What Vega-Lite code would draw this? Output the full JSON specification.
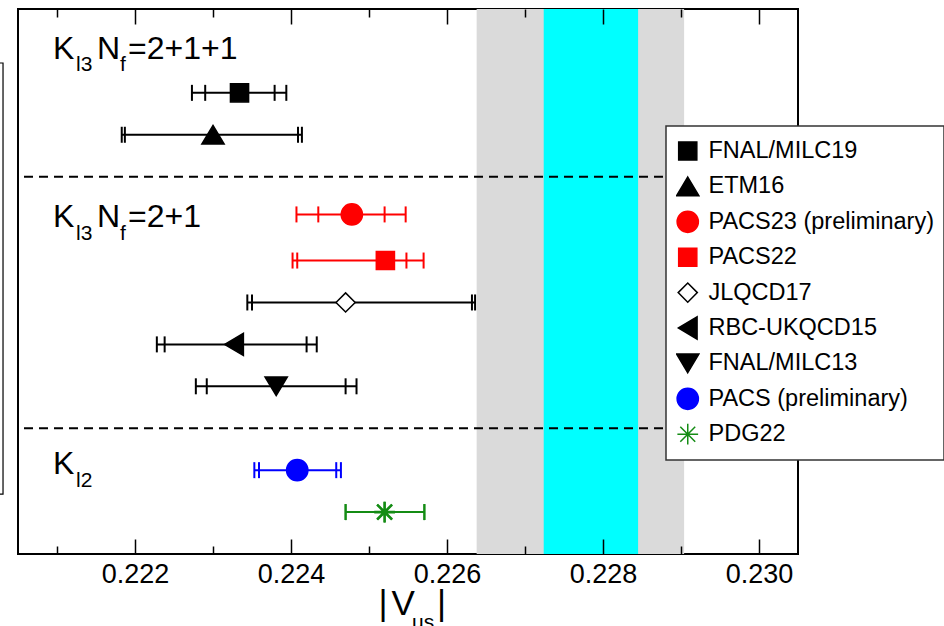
{
  "$schema": "https://vega.github.io/schema/vega-lite/v6.json",
  "width": 780,
  "height": 545,
  "autosize": "none",
  "padding": {"left": 18, "top": 9, "right": 146, "bottom": 72},
  "background": "white",
  "config": {
    "font": "Liberation Sans",
    "view": {"stroke": "black", "strokeWidth": 2},
    "axis": {"domain": false, "grid": false},
    "legend": {
      "orient": "none",
      "legendX": 648,
      "legendY": 117,
      "padding": 10,
      "fillColor": "white",
      "strokeColor": "#333333",
      "strokeWidth": 1.5,
      "labelFont": "Liberation Sans",
      "labelFontSize": 23.5,
      "labelColor": "black",
      "labelLimit": 400,
      "labelOffset": 9,
      "clipHeight": 30,
      "rowPadding": 5.4,
      "symbolStrokeWidth": 1.5,
      "symbolOpacity": 1,
      "symbolSize": 430,
      "zindex": 2
    }
  },
  "datasets": {
    "pts": [
      {"name": "FNAL/MILC19", "x": 0.22334, "lo1": 0.22273, "lo2": 0.22290, "hi2": 0.22379, "hi1": 0.22394, "pos": 2},
      {"name": "ETM16", "x": 0.22300, "lo1": 0.22183, "lo2": 0.22187, "hi2": 0.22409, "hi1": 0.22414, "pos": 3},
      {"name": "PACS23 (preliminary)", "x": 0.22478, "lo1": 0.22407, "lo2": 0.22435, "hi2": 0.22520, "hi1": 0.22547, "pos": 4.9},
      {"name": "PACS22", "x": 0.22521, "lo1": 0.22402, "lo2": 0.22408, "hi2": 0.22548, "hi1": 0.22570, "pos": 6},
      {"name": "JLQCD17", "x": 0.22470, "lo1": 0.22344, "lo2": 0.22350, "hi2": 0.22632, "hi1": 0.22636, "pos": 7},
      {"name": "RBC-UKQCD15", "x": 0.22327, "lo1": 0.22228, "lo2": 0.22238, "hi2": 0.22420, "hi1": 0.22433, "pos": 8},
      {"name": "FNAL/MILC13", "x": 0.22381, "lo1": 0.22278, "lo2": 0.22292, "hi2": 0.22470, "hi1": 0.22484, "pos": 9},
      {"name": "PACS (preliminary)", "x": 0.22408, "lo1": 0.22353, "lo2": 0.22359, "hi2": 0.22458, "hi1": 0.22464, "pos": 11},
      {"name": "PDG22", "x": 0.22520, "lo1": 0.22470, "lo2": 0.22470, "hi2": 0.22571, "hi1": 0.22571, "pos": 12}
    ],
    "grey": [{"lo": 0.22638, "hi": 0.22904}],
    "cyan": [{"lo": 0.22724, "hi": 0.22845}],
    "dash": [{"pos": 4}, {"pos": 10}],
    "lab": [
      {"t": "K", "x": 0.220949, "pos": 1.19},
      {"t": "N", "x": 0.221513, "pos": 1.19},
      {"t": "=2+1+1", "x": 0.22191, "pos": 1.19},
      {"t": "K", "x": 0.220949, "pos": 5.2},
      {"t": "N", "x": 0.221513, "pos": 5.2},
      {"t": "=2+1", "x": 0.22191, "pos": 5.2},
      {"t": "K", "x": 0.220949, "pos": 11.09}
    ],
    "sub": [
      {"t": "l3", "x": 0.221244, "pos": 1.49},
      {"t": "f", "x": 0.221808, "pos": 1.49},
      {"t": "l3", "x": 0.221244, "pos": 5.5},
      {"t": "f", "x": 0.221808, "pos": 5.5},
      {"t": "l2", "x": 0.221244, "pos": 11.4}
    ],
    "ttl": [
      {"t": "|", "x": 0.225122, "pos": 14.456},
      {"t": "V", "x": 0.225288, "pos": 14.456},
      {"t": "|", "x": 0.225871, "pos": 14.456}
    ],
    "ttlsub": [{"t": "us", "x": 0.225551, "pos": 14.79}],
    "box": [{"x": 0.2195, "x2": 0.220308, "pos": 1.288, "pos2": 11.57}]
  },
  "resolve": {"axis": {"x": "independent"}},
  "layer": [
    {
      "data": {"name": "grey"},
      "mark": {"type": "rect", "color": "#dadada"},
      "encoding": {
        "x": {"field": "lo", "type": "quantitative",
          "scale": {"domain": [0.2205, 0.2305], "nice": false, "zero": false},
          "axis": {"orient": "bottom", "values": [0.222, 0.224, 0.226, 0.228, 0.23], "format": ".3f", "ticks": false, "labels": true, "labelFontSize": 27, "labelPadding": 7, "labelColor": "black", "labelFont": "Liberation Sans", "title": null, "domain": false, "grid": false}},
        "x2": {"field": "hi"}
      }
    },
    {
      "data": {"name": "cyan"},
      "mark": {"type": "rect", "color": "#00ffff"},
      "encoding": {
        "x": {"field": "lo", "type": "quantitative",
          "scale": {"domain": [0.2205, 0.2305], "nice": false, "zero": false},
          "axis": {"orient": "bottom", "values": [0.222, 0.224, 0.226, 0.228, 0.23], "labels": false, "ticks": true, "tickSize": -15, "tickWidth": 1.5, "tickColor": "black", "title": null, "domain": false, "grid": false, "zindex": 1}},
        "x2": {"field": "hi"}
      }
    },
    {
      "data": {"name": "dash"},
      "mark": {"type": "rule", "color": "black", "strokeWidth": 2, "strokeDash": [9, 6]},
      "encoding": {
        "y": {"field": "pos", "type": "quantitative", "scale": {"domain": [0, 13], "reverse": true, "nice": false, "zero": false}, "axis": null}
      }
    },
    {
      "data": {"name": "pts"},
      "mark": {"type": "rule", "strokeWidth": 2},
      "encoding": {
        "x": {"field": "lo1", "type": "quantitative",
          "scale": {"domain": [0.2205, 0.2305], "nice": false, "zero": false},
          "axis": {"orient": "bottom", "values": [0.221, 0.223, 0.225, 0.227, 0.229], "labels": false, "ticks": true, "tickSize": -8, "tickWidth": 1.5, "tickColor": "black", "title": null, "domain": false, "grid": false, "zindex": 1}},
        "x2": {"field": "hi1"},
        "y": {"field": "pos", "type": "quantitative", "scale": {"domain": [0, 13], "reverse": true, "nice": false, "zero": false}, "axis": null},
        "stroke": {"field": "name", "type": "nominal", "title": null}
      }
    },
    {
      "data": {"name": "pts"},
      "transform": [{"fold": ["lo1", "lo2", "hi2", "hi1"], "as": ["k", "v"]}],
      "mark": {"type": "rule", "strokeWidth": 2, "yOffset": -8, "y2Offset": 8},
      "encoding": {
        "x": {"field": "v", "type": "quantitative",
          "scale": {"domain": [0.2205, 0.2305], "nice": false, "zero": false},
          "axis": {"orient": "top", "values": [0.222, 0.224, 0.226, 0.228, 0.23], "labels": false, "ticks": true, "tickSize": -15, "tickWidth": 1.5, "tickColor": "black", "title": null, "domain": false, "grid": false, "zindex": 1}},
        "y": {"field": "pos", "type": "quantitative", "scale": {"domain": [0, 13], "reverse": true, "nice": false, "zero": false}, "axis": null},
        "y2": {"field": "pos"},
        "stroke": {"field": "name", "type": "nominal", "title": null}
      }
    },
    {
      "data": {"name": "pts"},
      "mark": {"type": "point", "size": 430, "strokeWidth": 1.5, "opacity": 1},
      "encoding": {
        "x": {"field": "x", "type": "quantitative",
          "scale": {"domain": [0.2205, 0.2305], "nice": false, "zero": false},
          "axis": {"orient": "top", "values": [0.221, 0.223, 0.225, 0.227, 0.229], "labels": false, "ticks": true, "tickSize": -8, "tickWidth": 1.5, "tickColor": "black", "title": null, "domain": false, "grid": false, "zindex": 1}},
        "y": {"field": "pos", "type": "quantitative", "scale": {"domain": [0, 13], "reverse": true, "nice": false, "zero": false}, "axis": null},
        "shape": {"field": "name", "type": "nominal", "title": null,
          "scale": {"domain": ["FNAL/MILC19", "ETM16", "PACS23 (preliminary)", "PACS22", "JLQCD17", "RBC-UKQCD15", "FNAL/MILC13", "PACS (preliminary)", "PDG22"],
            "range": [
              "M-0.875,-0.875H0.875V0.875H-0.875Z",
              "M0,-0.9L1.075,0.9L-1.075,0.9Z",
              "M-1.025,0A1.025,1.025,0,1,0,1.025,0A1.025,1.025,0,1,0,-1.025,0Z",
              "M-0.875,-0.875H0.875V0.875H-0.875Z",
              "M-0.925,0L0,-0.925L0.925,0L0,0.925Z",
              "M-0.9,0L0.9,-1.075L0.9,1.075Z",
              "M0,0.9L1.075,-0.9L-1.075,-0.9Z",
              "M-1.025,0A1.025,1.025,0,1,0,1.025,0A1.025,1.025,0,1,0,-1.025,0Z",
              "M0,-1L0,1M-1,0L1,0M-0.72,-0.72L0.72,0.72M-0.72,0.72L0.72,-0.72"
            ]}},
        "fill": {"field": "name", "type": "nominal", "title": null,
          "scale": {"domain": ["FNAL/MILC19", "ETM16", "PACS23 (preliminary)", "PACS22", "JLQCD17", "RBC-UKQCD15", "FNAL/MILC13", "PACS (preliminary)", "PDG22"],
            "range": ["black", "black", "red", "red", "white", "black", "black", "blue", "#148c14"]}},
        "stroke": {"field": "name", "type": "nominal", "title": null,
          "scale": {"domain": ["FNAL/MILC19", "ETM16", "PACS23 (preliminary)", "PACS22", "JLQCD17", "RBC-UKQCD15", "FNAL/MILC13", "PACS (preliminary)", "PDG22"],
            "range": ["black", "black", "red", "red", "black", "black", "black", "blue", "#148c14"]}}
      }
    },
    {
      "data": {"name": "pts"},
      "transform": [{"filter": "datum.name === 'PDG22'"}],
      "mark": {"type": "point", "size": 430, "strokeWidth": 2.6, "opacity": 1},
      "encoding": {
        "x": {"field": "x", "type": "quantitative", "axis": null},
        "y": {"field": "pos", "type": "quantitative", "axis": null},
        "shape": {"field": "name", "type": "nominal", "title": null},
        "stroke": {"field": "name", "type": "nominal", "title": null}
      }
    },
    {
      "data": {"name": "lab"},
      "mark": {"type": "text", "align": "left", "baseline": "alphabetic", "fontSize": 32, "color": "black"},
      "encoding": {
        "x": {"field": "x", "type": "quantitative", "axis": null},
        "y": {"field": "pos", "type": "quantitative", "axis": null},
        "text": {"field": "t"}
      }
    },
    {
      "data": {"name": "sub"},
      "mark": {"type": "text", "align": "left", "baseline": "alphabetic", "fontSize": 21, "color": "black"},
      "encoding": {
        "x": {"field": "x", "type": "quantitative", "axis": null},
        "y": {"field": "pos", "type": "quantitative", "axis": null},
        "text": {"field": "t"}
      }
    },
    {
      "data": {"name": "ttl"},
      "mark": {"type": "text", "align": "left", "baseline": "alphabetic", "fontSize": 35, "color": "black"},
      "encoding": {
        "x": {"field": "x", "type": "quantitative", "axis": null},
        "y": {"field": "pos", "type": "quantitative", "axis": null},
        "text": {"field": "t"}
      }
    },
    {
      "data": {"name": "ttlsub"},
      "mark": {"type": "text", "align": "left", "baseline": "alphabetic", "fontSize": 21, "color": "black"},
      "encoding": {
        "x": {"field": "x", "type": "quantitative", "axis": null},
        "y": {"field": "pos", "type": "quantitative", "axis": null},
        "text": {"field": "t"}
      }
    },
    {
      "data": {"name": "box"},
      "mark": {"type": "rect", "filled": false, "stroke": "black", "strokeWidth": 1.2},
      "encoding": {
        "x": {"field": "x", "type": "quantitative", "axis": null},
        "x2": {"field": "x2"},
        "y": {"field": "pos", "type": "quantitative", "axis": null},
        "y2": {"field": "pos2"}
      }
    }
  ]
}
